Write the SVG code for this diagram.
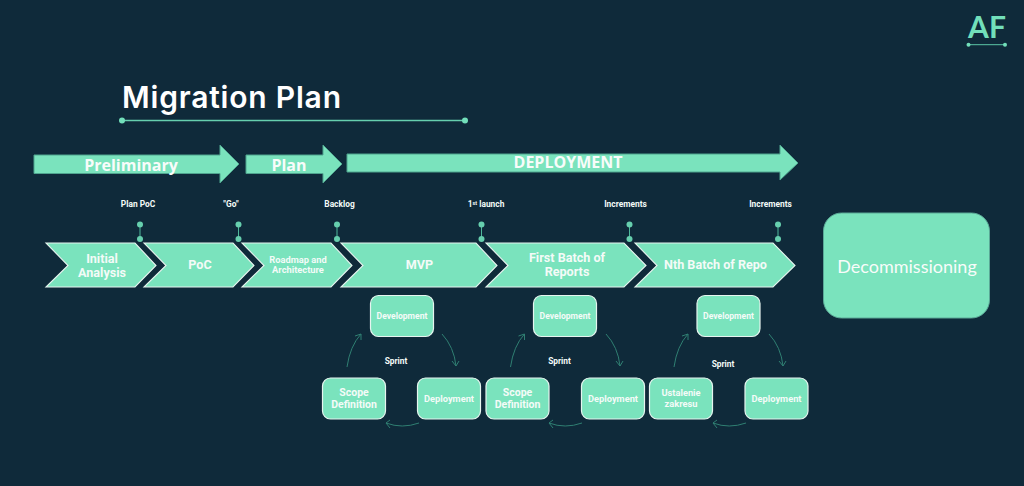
<svg xmlns="http://www.w3.org/2000/svg" width="1024" height="486" viewBox="0 0 1024 486">
<style>
.t{font-family:"Roboto","Liberation Sans",sans-serif;font-weight:700;fill:#f4fbf8;text-anchor:middle}
.o{font-family:"Open Sans","Liberation Sans",sans-serif;font-weight:700;fill:#f8fcfa;text-anchor:middle}
.s{font-size:8.400px}.d{font-size:8.600px}.b{font-size:9.300px}.k{font-size:10.500px}.c{font-size:12.600px}
.chev{fill:#7ae3bd;stroke:#e6f4ef;stroke-width:1.100}
.band{fill:#7ae3bd;stroke:#4fa48e;stroke-width:1}
.box{fill:#7ae3bd;stroke:#e6f4ef;stroke-width:1.200}
.pin{stroke:#4fb89b;stroke-width:1;fill:none}
.dot{fill:#66cfae}
.arc{fill:none;stroke:#2f7f72;stroke-width:1}
</style>
<rect width="1024" height="486" fill="#0f2a3a"/>
<g id="logo">
<text x="987" y="38" font-family="Lato,'Liberation Sans',sans-serif" font-weight="700" font-size="30" fill="#72dfba" text-anchor="middle" textLength="38" lengthAdjust="spacing">AF</text>
<path d="M968.500 44.700H1005" stroke="#5cc6a6" stroke-width="1"/>
<circle cx="968.500" cy="44.700" r="2" fill="#72dfba"/><circle cx="1005" cy="44.700" r="2" fill="#72dfba"/>
</g>
<g id="title">
<text x="122" y="108" font-family="Inter,Lato,sans-serif" font-weight="600" font-size="30" fill="#fff" textLength="219" lengthAdjust="spacing">Migration Plan</text>
<path d="M122 120.500H465" stroke="#66cfae" stroke-width="1.500"/>
<circle cx="122" cy="120.500" r="3" fill="#72dfba"/><circle cx="465" cy="120.500" r="3" fill="#72dfba"/>
</g>
<g id="band-preliminary"><path class="band" d="M34 155H220V145L239 164L220 183V173.500H34Z"/><text class="o" x="131" y="171" font-size="16">Preliminary</text></g>
<g id="band-plan"><path class="band" d="M246 155H323V145L342 164L323 183V173.500H246Z"/><text class="o" x="289" y="171" font-size="16">Plan</text></g>
<g id="band-deployment"><path class="band" d="M347 154H780V145L798 163L780 180V172H347Z"/><text class="o" x="568" y="168" font-size="16">DEPLOYMENT</text></g>
<g id="connectors">
<g class="pins">
<path class="pin" d="M140 224.500V239"/><circle class="dot" cx="140" cy="224.500" r="3"/><circle class="dot" cx="140" cy="239" r="3"/>
<path class="pin" d="M238.500 224.500V239"/><circle class="dot" cx="238.500" cy="224.500" r="3"/><circle class="dot" cx="238.500" cy="239" r="3"/>
<path class="pin" d="M337 224.500V239"/><circle class="dot" cx="337" cy="224.500" r="3"/><circle class="dot" cx="337" cy="239" r="3"/>
<path class="pin" d="M481.500 224.500V239"/><circle class="dot" cx="481.500" cy="224.500" r="3"/><circle class="dot" cx="481.500" cy="239" r="3"/>
<path class="pin" d="M629.500 224.500V239"/><circle class="dot" cx="629.500" cy="224.500" r="3"/><circle class="dot" cx="629.500" cy="239" r="3"/>
<path class="pin" d="M778 224.500V239"/><circle class="dot" cx="778" cy="224.500" r="3"/><circle class="dot" cx="778" cy="239" r="3"/>
</g>
<g id="arcs1">
<path class="arc" d="M347 367Q350 346 361 334M355 336L361 334L361 340"/>
<path class="arc" d="M442 334Q454 347 456 366M452 361L456 366L459 361"/>
<path class="arc" d="M419 423Q402 429 386 423M390 420L386 423L390 428"/>
</g>
<g id="arcs2">
<path class="arc" d="M510.500 367Q513.500 346 524.500 334M518.500 336L524.500 334L524.500 340"/>
<path class="arc" d="M606 334Q618 347 620 366M616 361L620 366L623 361"/>
<path class="arc" d="M582 423Q565 429 549 423M553 420L549 423L553 428"/>
</g>
<g id="arcs3">
<path class="arc" d="M674 367Q677 346 688 334M682 336L688 334L688 340"/>
<path class="arc" d="M769 334Q781 347 783 366M779 361L783 366L786 361"/>
<path class="arc" d="M746 423Q729 429 713 423M717 420L713 423L717 428"/>
</g>
</g>
<g id="milestones">
<text class="t s" x="138" y="207">Plan PoC</text>
<text class="t s" x="231" y="207">"Go"</text>
<text class="t s" x="339.500" y="207">Backlog</text>
<text class="t s" x="486" y="207">1<tspan font-size="5.500" dy="-2.500">st</tspan><tspan dy="2.500"> launch</tspan></text>
<text class="t s" x="625.500" y="207">Increments</text>
<text class="t s" x="770.500" y="207">Increments</text>
</g>
<g id="step-initial"><path class="chev" d="M46 243H135L156 265.500L135 287H46L68 265.500Z"/><text class="t c" x="102" y="263">Initial</text><text class="t c" x="102" y="277">Analysis</text></g>
<g id="step-poc"><path class="chev" d="M144 243H233L254 265.500L233 287H144L166 265.500Z"/><text class="t c" x="200" y="269">PoC</text></g>
<g id="step-roadmap"><path class="chev" d="M242 243H331L352 265.500L331 287H242L264 265.500Z"/><text class="t" font-size="9.300" x="298" y="263">Roadmap and</text><text class="t" font-size="9.300" x="298" y="273">Architecture</text></g>
<g id="step-mvp"><path class="chev" d="M341 243H476L497 265.500L476 287H341L363 265.500Z"/><text class="t c" x="419.500" y="269">MVP</text></g>
<g id="step-first"><path class="chev" d="M486 243H624L646 265.500L624 287H486L508 265.500Z"/><text class="t c" x="567" y="262">First Batch of</text><text class="t c" x="567" y="276">Reports</text></g>
<g id="step-nth"><path class="chev" d="M635 243H773L795 265.500L773 287H635L657 265.500Z"/><text class="t c" x="715.500" y="269">Nth Batch of Repo</text></g>
<g id="decommissioning"><rect x="823.500" y="213" width="166" height="105" rx="18" fill="#7ae3bd" stroke="#5aa896" stroke-width="1"/><text x="907" y="272.500" font-family="Lato,sans-serif" font-size="18" fill="#f8fcfa" text-anchor="middle">Decommissioning</text></g>
<g id="dev1"><rect class="box" x="370.500" y="295.500" width="63" height="41" rx="8"/><text class="t d" x="402" y="319">Development</text></g>
<g id="scope1"><rect class="box" x="322.500" y="378" width="63" height="41" rx="8"/><text class="t k" x="354" y="396">Scope</text><text class="t k" x="354" y="407.500">Definition</text></g>
<g id="deploy1"><rect class="box" x="417.500" y="378" width="63" height="41" rx="8"/><text class="t b" x="449" y="402">Deployment</text></g>
<text class="t s" x="396" y="364">Sprint</text>
<g id="dev2"><rect class="box" x="533.500" y="295.500" width="63" height="41" rx="8"/><text class="t d" x="565" y="319">Development</text></g>
<g id="scope2"><rect class="box" x="486" y="378" width="63" height="41" rx="8"/><text class="t k" x="517.500" y="396">Scope</text><text class="t k" x="517.500" y="407.500">Definition</text></g>
<g id="deploy2"><rect class="box" x="581.500" y="378" width="63" height="41" rx="8"/><text class="t b" x="613" y="402">Deployment</text></g>
<text class="t s" x="559.500" y="364">Sprint</text>
<g id="dev3"><rect class="box" x="697" y="295.500" width="63" height="41" rx="8"/><text class="t d" x="728.500" y="319">Development</text></g>
<g id="scope3"><rect class="box" x="649.500" y="378" width="63" height="41" rx="8"/><text class="t b" x="681" y="396">Ustalenie</text><text class="t b" x="681" y="407">zakresu</text></g>
<g id="deploy3"><rect class="box" x="745" y="378" width="63" height="41" rx="8"/><text class="t b" x="776.500" y="402">Deployment</text></g>
<text class="t s" x="723" y="367">Sprint</text>
</svg>
